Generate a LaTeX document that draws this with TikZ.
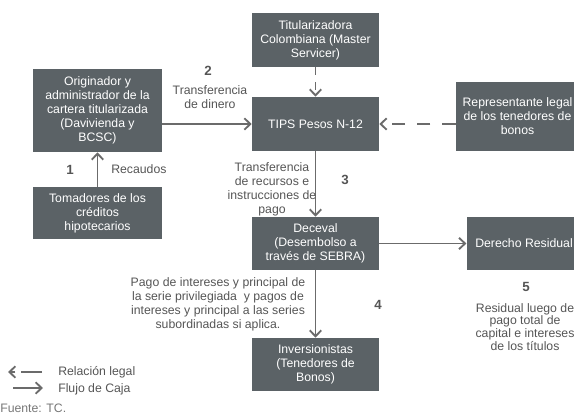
\documentclass[tikz,border=0pt]{standalone}
\usepackage{fontspec}
\setmainfont{Liberation Sans}
\setsansfont{Liberation Sans}
\usetikzlibrary{arrows.meta}
\definecolor{boxgray}{HTML}{5B6266}
\definecolor{linegray}{HTML}{6B6B6B}
\definecolor{textgray}{HTML}{555555}

\begin{document}
\begin{tikzpicture}[
    , x = 0.75pt
    , y = -0.75pt
    , font = \sffamily\fontsize{9.2}{10.5}\selectfont
    , box/.style = {
      , fill = boxgray
      , text = white
      , align = center
      , inner sep = 0pt
      , minimum width = #1
    }
    , box/.default = 95.25pt
    , lbl/.style = {text = textgray, align = center, inner sep = 0pt}
    , num/.style = {text = textgray, inner sep = 0pt, font = \sffamily\bfseries\fontsize{10}{12}\selectfont}
    , flow/.style = {draw = linegray, line width = 1.4pt, -{Straight Barb[length=4.5pt, width=8.5pt]}}
    , legal/.style = {flow, dash pattern = on 10pt off 9pt}
  ]
    \useasboundingbox (0,0) rectangle (574,416);

    % boxes
    \node (titu) [box, minimum height = 40.5pt] at (315.5,40) {Titularizadora\\Colombiana (Master\\Servicer)};
    \node (tips) [box, minimum height = 40.5pt] at (315.5,124) {TIPS Pesos N-12};
    \node (orig) [box = 96.75pt, minimum height = 62.25pt] at (97.5,110.5) {Originador y\\administrador de la\\cartera titularizada\\(Davivienda y\\BCSC)};
    \node (toma) [box = 96.75pt, minimum height = 39pt] at (97.5,213) {Tomadores de los\\créditos\\hipotecarios};
    \node (repr) [box = 92.25pt, minimum height = 51.75pt] at (517.5,116.5) {Representante legal\\de los tenedores de\\bonos};
    \node (dece) [box, minimum height = 39.75pt] at (315.5,243.5) {Deceval\\(Desembolso a\\través de SEBRA)};
    \node (resi) [box = 86pt, minimum height = 39.75pt] at (524,243.5) {Derecho Residual};
    \node (inve) [box, minimum height = 39.75pt] at (315.5,364.5) {Inversionistas\\(Tenedores de\\Bonos)};

    % connectors
    \draw [flow] (toma.north) -- (orig.south);
    \draw [flow] (orig.east |- tips.west) -- (tips.west);
    \draw [legal, dash pattern = on 6pt off 5pt] (titu.south) -- (tips.north);
    \draw [legal] (repr.west |- tips.east) -- (tips.east);
    \draw [flow] (tips.south) -- (dece.north);
    \draw [flow] (dece.east) -- (resi.west);
    \draw [flow] (dece.south) -- (inve.north);

    % labels
    \node (n1) [num] at (70,170) {1};
    \node (recaudos) [lbl, anchor = west] at (111,169) {Recaudos};
    \node (n2) [num] at (208,71) {2};
    \node (dinero) [lbl] at (210,97) {Transferencia\\de dinero};
    \node (n3) [num] at (345,180) {3};
    \node (recursos) [lbl] at (272,189.5) {Transferencia\\de recursos e\\instrucciones de\\pago};
    \node (n4) [num] at (378,305) {4};
    \node (pago) [lbl] at (218,304) {Pago de intereses y principal de\\la serie privilegiada\ \ y pagos de\\intereses y principal a las series\\subordinadas si aplica.};
    \node (n5) [num] at (526,287) {5};
    \node (residual) [lbl, font = \sffamily\fontsize{9.2}{9.6}\selectfont] at (525,327) {Residual luego de\\pago total de\\capital e intereses\\de los títulos};

    % legend
    \coordinate (legA) at (42,372);
    \coordinate (legB) at (8,372);
    \coordinate (legC) at (13,388);
    \coordinate (legD) at (43,388);
    \draw [legal, dash pattern = on 16pt off 4pt] (legA) -- (legB);
    \draw [flow] (legC) -- (legD);
    \node (relacion) [lbl, anchor = west] at (58,372) {Relación legal};
    \node (caja) [lbl, anchor = west] at (58,389) {Flujo de Caja};
    \node (fuente) [lbl, anchor = west, text = textgray!80] at (0,408) {Fuente: TC.};
  \end{tikzpicture}
\end{document}
